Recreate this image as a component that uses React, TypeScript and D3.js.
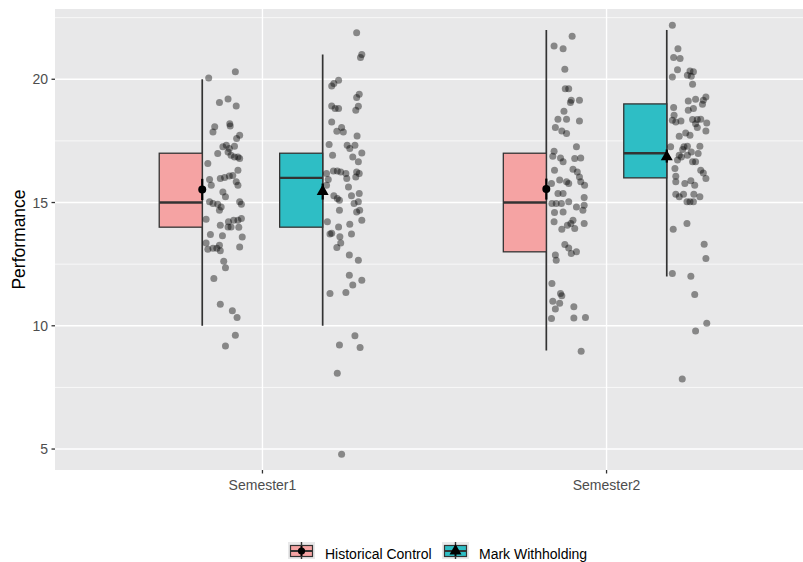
import * as d3 from 'd3';

// chart values
const categories = ['Semester1', 'Semester2'];
const groups = ['Historical Control', 'Mark Withholding'];
const groupColors = ['#F5A3A3', '#2EBEC5'];

// per group: lower whisker, q1, median, q3, upper whisker
const boxSemester1 = [[10, 14, 15, 17, 20], [10, 14, 16, 17, 21]];
const boxSemester2 = [[9, 13, 15, 17, 22], [12, 16, 17, 19, 22]];

// per group: mean, lower, upper (error bar)
const meanSemester1 = [[15.53, 15.1, 15.96], [15.45, 15.12, 15.77]];
const meanSemester2 = [[15.55, 15.12, 15.97], [16.85, 16.62, 17.15]];

const yTicks = [5, 10, 15, 20];
const yMinorTicks = [7.5, 12.5, 17.5, 22.5];

// jittered raw scores: [jitter fraction, performance]
const s1Historical = [
  [0.15, 20.05], [0.77, 20.3], [0.40, 19.06], [0.60, 19.2], [0.79, 18.92], [0.64, 18.2], [0.65, 18.1],
  [0.29, 18.07], [0.25, 17.86], [0.87, 17.73], [0.80, 17.6], [0.48, 17.26], [0.56, 17.32], [0.63, 17.19],
  [0.75, 17.28], [0.36, 16.99], [0.67, 16.92], [0.75, 16.85], [0.83, 16.85], [0.87, 16.79], [0.60, 17.05],
  [0.13, 16.58], [0.83, 16.31], [0.42, 15.97], [0.52, 16.01], [0.63, 16.08], [0.71, 16.1], [0.17, 15.93],
  [0.21, 15.7], [0.79, 15.84], [0.83, 15.7], [0.48, 15.43], [0.54, 15.23], [0.17, 15.03], [0.25, 14.96],
  [0.36, 14.93], [0.44, 14.82], [0.87, 15.03], [0.91, 14.93], [0.40, 14.69], [0.09, 14.32], [0.42, 14.08],
  [0.61, 14.22], [0.60, 14.01], [0.67, 14.01], [0.73, 14.28], [0.83, 14.28], [0.91, 14.35], [0.85, 14.0],
  [0.19, 13.7], [0.47, 13.65], [0.93, 13.6], [0.09, 13.36], [0.13, 13.1], [0.25, 13.14], [0.34, 13.14],
  [0.40, 13.27], [0.42, 13.04], [0.87, 13.2], [0.50, 12.62], [0.54, 12.35], [0.27, 11.92], [0.42, 10.87],
  [0.70, 10.61], [0.81, 10.34], [0.77, 9.62], [0.54, 9.18],
];
const s1Withholding = [
  [0.79, 21.89], [0.91, 21.0], [0.88, 20.88], [0.37, 19.96], [0.26, 19.83], [0.21, 19.73], [0.85, 19.39],
  [0.79, 19.26], [0.21, 18.92], [0.29, 18.81], [0.37, 18.81], [0.83, 18.91], [0.77, 18.74], [0.21, 18.27],
  [0.44, 18.04], [0.33, 17.89], [0.48, 17.86], [0.80, 17.7], [0.15, 17.35], [0.57, 17.32], [0.63, 17.19],
  [0.75, 17.32], [0.23, 16.92], [0.70, 16.85], [0.91, 17.01], [0.83, 16.65], [0.25, 16.28], [0.34, 16.28],
  [0.42, 16.24], [0.54, 16.18], [0.79, 16.24], [0.85, 16.18], [0.09, 16.18], [0.13, 15.93], [0.56, 15.97],
  [0.77, 16.04], [0.09, 15.7], [0.60, 15.63], [0.26, 15.27], [0.34, 15.16], [0.39, 15.09], [0.67, 15.27],
  [0.85, 15.37], [0.73, 14.96], [0.83, 15.03], [0.79, 14.62], [0.86, 14.69], [0.39, 14.69], [0.91, 14.28],
  [0.11, 14.22], [0.37, 14.01], [0.63, 14.12], [0.21, 13.75], [0.17, 13.72], [0.40, 13.61], [0.42, 13.36],
  [0.67, 13.72], [0.33, 13.18], [0.62, 12.87], [0.83, 12.66], [0.62, 12.05], [0.91, 11.85], [0.70, 11.65],
  [0.54, 11.35], [0.17, 11.31], [0.75, 9.6], [0.39, 9.22], [0.87, 9.12], [0.34, 8.07], [0.44, 4.79],
];
const s2Historical = [
  [0.60, 21.74], [0.18, 21.35], [0.39, 21.24], [0.43, 20.41], [0.44, 19.62], [0.52, 19.62], [0.58, 19.15],
  [0.77, 19.15], [0.56, 19.06], [0.41, 18.7], [0.27, 18.38], [0.47, 18.38], [0.77, 18.31], [0.21, 18.04],
  [0.36, 17.9], [0.47, 17.8], [0.70, 17.26], [0.18, 17.08], [0.15, 16.88], [0.33, 16.81], [0.66, 16.79],
  [0.80, 16.81], [0.39, 16.65], [0.19, 16.31], [0.62, 16.35], [0.72, 16.24], [0.77, 16.04], [0.31, 15.91],
  [0.47, 15.84], [0.52, 15.77], [0.80, 15.84], [0.12, 15.77], [0.89, 15.7], [0.27, 15.37], [0.39, 15.37],
  [0.88, 15.2], [0.13, 14.96], [0.23, 14.96], [0.35, 14.96], [0.52, 15.03], [0.70, 14.82], [0.88, 14.89],
  [0.85, 14.69], [0.19, 14.6], [0.39, 14.62], [0.62, 14.28], [0.57, 14.15], [0.88, 14.15], [0.18, 14.22],
  [0.49, 14.08], [0.36, 13.92], [0.66, 13.95], [0.43, 13.3], [0.52, 13.16], [0.58, 12.93], [0.70, 13.0],
  [0.21, 12.87], [0.23, 12.66], [0.13, 11.72], [0.33, 11.31], [0.36, 11.22], [0.15, 11.0], [0.31, 10.91],
  [0.21, 10.68], [0.64, 10.77], [0.12, 10.3], [0.64, 10.32], [0.91, 10.34], [0.81, 8.97],
];
const s2Withholding = [
  [0.13, 22.19], [0.26, 21.24], [0.16, 20.88], [0.31, 20.84], [0.25, 20.39], [0.54, 20.34], [0.62, 20.3],
  [0.48, 20.16], [0.57, 20.12], [0.13, 20.09], [0.60, 19.8], [0.91, 19.28], [0.85, 19.15], [0.67, 19.19],
  [0.50, 19.12], [0.83, 18.99], [0.16, 18.85], [0.62, 18.81], [0.50, 18.74], [0.17, 18.54], [0.13, 18.34],
  [0.21, 18.27], [0.33, 18.31], [0.60, 18.37], [0.71, 18.37], [0.79, 18.38], [0.67, 18.2], [0.71, 18.04],
  [0.93, 18.23], [0.91, 17.9], [0.29, 17.69], [0.44, 17.82], [0.54, 17.73], [0.09, 17.26], [0.40, 17.26],
  [0.48, 17.28], [0.77, 17.28], [0.37, 17.15], [0.57, 17.05], [0.73, 16.99], [0.29, 16.92], [0.48, 16.92],
  [0.34, 16.85], [0.25, 16.72], [0.60, 16.65], [0.67, 16.65], [0.19, 16.38], [0.79, 16.31], [0.85, 16.2],
  [0.91, 15.97], [0.21, 16.07], [0.21, 15.84], [0.42, 15.77], [0.56, 15.88], [0.65, 15.7], [0.21, 15.34],
  [0.29, 15.23], [0.39, 15.34], [0.63, 15.34], [0.77, 15.23], [0.47, 15.03], [0.54, 15.03], [0.62, 15.03],
  [0.15, 13.92], [0.47, 14.15], [0.87, 13.31], [0.91, 12.73], [0.13, 12.12], [0.56, 12.01], [0.65, 11.27],
  [0.93, 10.1], [0.67, 9.79], [0.36, 7.84],
];

const boxes = [boxSemester1, boxSemester2];
const means = [meanSemester1, meanSemester2];
const points = [[s1Historical, s1Withholding], [s2Historical, s2Withholding]];

const W = 803;
const H = 562;
const panel = { left: 55, right: 803, top: 9, bottom: 470 };
const dodge = 0.175; // half the dodge distance, in category units
const halfBox = 0.125; // box drawn to the left of the dodged position
const jitterWidth = 0.125;
const font = 'Liberation Sans, Arial, Helvetica, sans-serif';

export default function App() {
  const x = d3.scaleLinear().domain([0.4, 2.6]).range([56, 813]);
  const y = d3.scaleLinear().domain([4.15, 22.85]).range([panel.bottom, panel.top]);
  const triangle = d3.symbol().type(d3.symbolTriangle).size(62)();
  const markerFor = (g: number, cx: number, cy: number, r = 4) =>
    g === 0 ? (
      <circle cx={cx} cy={cy} r={r} fill="black" />
    ) : (
      <path d={triangle} transform={`translate(${cx},${cy})`} fill="black" />
    );

  return (
    <svg width={W} height={H} style={{ position: 'absolute', left: 0, top: 0, fontFamily: font }}>
      <rect width={W} height={H} fill="white" />
      <rect
        x={panel.left}
        y={panel.top}
        width={panel.right - panel.left}
        height={panel.bottom - panel.top}
        fill="#E8E8E9"
      />
      {yMinorTicks.map(t => (
        <line key={'mn' + t} x1={panel.left} x2={panel.right} y1={y(t)} y2={y(t)} stroke="white" strokeWidth={0.7} />
      ))}
      {yTicks.map(t => (
        <line key={'mj' + t} x1={panel.left} x2={panel.right} y1={y(t)} y2={y(t)} stroke="white" strokeWidth={1.4} />
      ))}
      {categories.map((c, i) => (
        <line key={'vx' + c} x1={x(i + 1)} x2={x(i + 1)} y1={panel.top} y2={panel.bottom} stroke="white" strokeWidth={1.4} />
      ))}

      {categories.map((c, i) =>
        groups.map((g, gi) => {
          const [lo, q1, med, q3, hi] = boxes[i][gi];
          const pos = i + 1 + (gi === 0 ? -dodge : dodge);
          const right = x(pos);
          const left = x(pos - halfBox);
          const [m, mLo, mHi] = means[i][gi];
          return (
            <g key={c + g}>
              <line x1={right} x2={right} y1={y(lo)} y2={y(hi)} stroke="#333" strokeWidth={1.7} />
              <rect x={left} y={y(q3)} width={right - left} height={y(q1) - y(q3)} fill={groupColors[gi]} stroke="#333" strokeWidth={1.3} />
              <line x1={left} x2={right} y1={y(med)} y2={y(med)} stroke="#333" strokeWidth={2.4} />
              {points[i][gi].map(([f, v], k) => (
                <circle key={k} cx={x(pos + f * jitterWidth)} cy={y(v)} r={3.5} fill="black" opacity={0.42} />
              ))}
              <line x1={right} x2={right} y1={y(mLo)} y2={y(mHi)} stroke="black" strokeWidth={2.2} />
              {markerFor(gi, right, y(m))}
            </g>
          );
        })
      )}

      {/* y axis */}
      {yTicks.map(t => (
        <g key={'yt' + t}>
          <line x1={panel.left - 3.5} x2={panel.left} y1={y(t)} y2={y(t)} stroke="#333" strokeWidth={1.3} />
          <text x={panel.left - 7} y={y(t) + 5} textAnchor="end" fontSize={14} fill="#4D4D4D">
            {t}
          </text>
        </g>
      ))}
      <text transform={`translate(25,${(panel.top + panel.bottom) / 2}) rotate(-90)`} textAnchor="middle" fontSize={17.5} fill="black">
        Performance
      </text>

      {/* x axis */}
      {categories.map((c, i) => (
        <g key={'xt' + c}>
          <line x1={x(i + 1)} x2={x(i + 1)} y1={panel.bottom} y2={panel.bottom + 3.5} stroke="#333" strokeWidth={1.3} />
          <text x={x(i + 1)} y={490} textAnchor="middle" fontSize={14} fill="#4D4D4D">
            {c}
          </text>
        </g>
      ))}

      {/* legend */}
      {groups.map((g, gi) => {
        const kx = gi === 0 ? 288 : 442;
        const cx = kx + 13.5;
        const cy = 551;
        return (
          <g key={'lg' + g}>
            <rect x={kx} y={542} width={27} height={17} fill="#E8E8E9" />
            <line x1={cx} x2={cx} y1={542} y2={559} stroke="#333" strokeWidth={1.4} />
            <rect x={kx + 2.5} y={545.5} width={22} height={11} fill={groupColors[gi]} stroke="#333" strokeWidth={1.2} />
            <line x1={kx + 2.5} x2={kx + 24.5} y1={cy} y2={cy} stroke="#333" strokeWidth={2} />
            <line x1={cx} x2={cx} y1={546} y2={556} stroke="black" strokeWidth={2} />
            {markerFor(gi, cx, cy, 3.6)}
            <text x={kx + 37} y={558.5} fontSize={14} fill="black">
              {g}
            </text>
          </g>
        );
      })}
    </svg>
  );
}
